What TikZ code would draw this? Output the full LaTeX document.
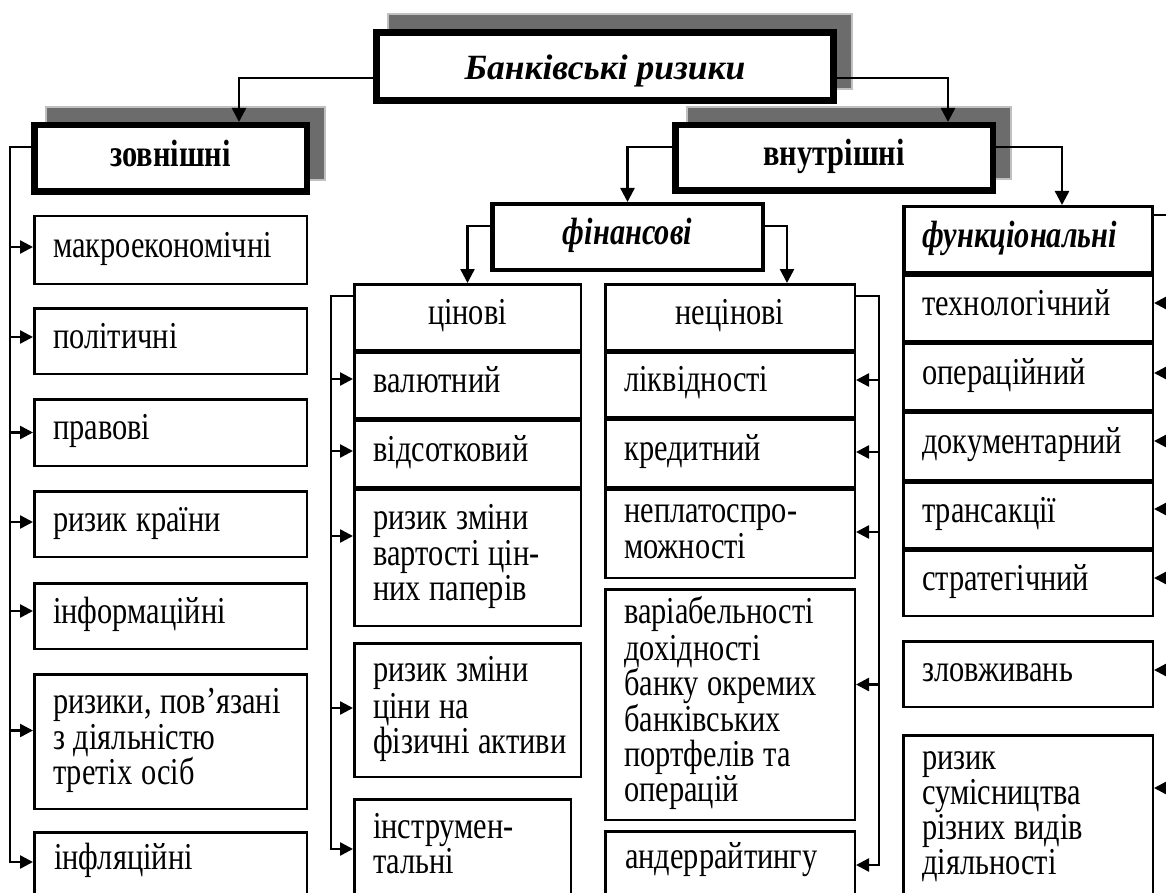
\documentclass[tikz,border=0pt]{standalone}
\usepackage{fontspec}
\setmainfont{Liberation Serif}
\newfontfamily\itemfam[FakeStretch=0.8,WordSpace=1.15]{Liberation Serif}
\newfontfamily\headfam[FakeStretch=0.8,WordSpace=1.15]{Liberation Serif}
\usetikzlibrary{arrows.meta,backgrounds}
\newcommand\itemfnt{\itemfam\fontsize{38}{35}\selectfont}
\newcommand\headfnt{\headfam\fontsize{38}{35}\selectfont\bfseries}
\newcommand\headifnt{\headfam\fontsize{38}{35}\selectfont\bfseries\itshape}
\newcommand\mainfnt{\fontsize{35.5}{40}\selectfont\bfseries\itshape}
\definecolor{shadowgray}{RGB}{108,108,108}
\definecolor{shadowedge}{RGB}{192,192,192}
\tikzset{
  ln/.style={line width=2.5pt},
  arr/.style={line width=2.5pt,-{Triangle[length=13pt,width=13pt]}},
  darr/.style={line width=2.5pt,-{Triangle[length=14pt,width=14pt]}},
  topbox/.style={draw,fill=white,line width=6.5pt,anchor=north west,inner sep=0pt,
    execute at begin node=\strut},
  itembox/.style={draw,fill=white,line width=2.5pt,anchor=north west,inner xsep=19pt,
    inner ysep=0pt,align=flush left,font=\itemfnt,
    execute at begin node=\strut,execute at end node=\strut},
  framebox/.style={draw,line width=2.5pt,anchor=north west,inner sep=0pt},
  txt/.style={anchor=west,inner sep=0pt,align=left,font=\itemfnt,
    execute at begin node=\strut,execute at end node=\strut},
  shadowrect/.style={fill=shadowgray,draw=shadowedge,line width=2pt},
}
\begin{document}
\begin{tikzpicture}[x=1pt,y=-1pt]
\useasboundingbox (0,0) rectangle (1166,893);
\clip (0,0) rectangle (1166,893);

% ---- top level boxes
\node[draw,fill=white,line width=7pt,anchor=north west,inner sep=0pt,minimum width=457pt,minimum height=68pt,
  text height=32pt,text depth=6.4pt,font=\mainfnt] (main) at (373,29) {Банківські ризики};
\node[topbox,minimum width=272.5pt,minimum height=66.5pt,font=\headfnt] (zovn) at (31,122) {зовнішні};
\node[topbox,minimum width=317.5pt,minimum height=65.5pt,font=\headfnt] (vnut) at (672,122) {внутрішні};
\node[topbox,line width=4.5pt,minimum width=270.5pt,minimum height=65.5pt,font=\headifnt] (fin) at (490,202) {фінансові};
\node[itembox,line width=3.5pt,text width=210.5pt,minimum height=65.5pt,font=\headifnt] (func) at (902,205) {функціональні};

\begin{scope}[on background layer]
  \fill[white] (0,0) rectangle (1166,893);
  \foreach \b in {main,zovn,vnut}
    \draw[shadowrect] ([xshift=15pt,yshift=15pt]\b.north west) rectangle ([xshift=15pt,yshift=15pt]\b.south east);
\end{scope}

% ---- external risks
\node[itembox,text width=234.5pt,minimum height=67.5pt] (makro) at (33,215) {макроекономічні};
\node[itembox,text width=234.5pt,minimum height=65.5pt] (polit) at (33,307) {політичні};
\node[itembox,text width=234.5pt,minimum height=66.5pt] (prav) at (33,398) {правові};
\node[itembox,text width=234.5pt,minimum height=65.5pt] (krain) at (33,490) {ризик країни};
\node[itembox,text width=234.5pt,minimum height=65.5pt] (inform) at (33,582) {інформаційні};
\node[itembox,text width=234.5pt,minimum height=134.5pt] (tretih) at (33,673) {\mbox{ризики, пов’язані}\\з діяльністю\\третіх осіб};
\node[framebox,minimum width=272.5pt,minimum height=200pt] (infl) at (33,831) {};
\node[txt] (infl-t) at (54,862) {інфляційні};

% ---- price risks
\node[itembox,text width=188.5pt,align=center,minimum height=65.5pt] (tsin) at (353,283) {цінові};
\node[itembox,text width=188.5pt,minimum height=65.5pt] (valut) at (353,351) {валютний};
\node[itembox,text width=188.5pt,minimum height=66.5pt] (vidsot) at (353,419) {відсотковий};
\node[itembox,text width=188.5pt,minimum height=136.5pt] (vart) at (353,488) {ризик зміни\\\mbox{вартості цін-}\\них паперів};
\node[itembox,text width=188.5pt,minimum height=133.5pt] (fiz) at (353,642) {ризик зміни\\ціни на\\\mbox{фізичні активи}};
\node[framebox,minimum width=216.5pt,minimum height=200pt] (instr) at (353,798) {};
\node[txt] (instr-t) at (373,849) {інструмен-\\тальні};

% ---- non-price risks
\node[itembox,text width=211.5pt,align=center,minimum height=65.5pt] (netsin) at (604,283) {нецінові};
\node[itembox,text width=211.5pt,minimum height=64.5pt] (likv) at (604,351) {ліквідності};
\node[itembox,text width=211.5pt,minimum height=67.5pt] (kred) at (604,418) {кредитний};
\node[itembox,text width=211.5pt,minimum height=88.5pt] (neplat) at (604,488) {неплатоспро-\\можності};
\node[itembox,text width=211.5pt,minimum height=230.5pt] (var) at (604,588) {варіабельності\\дохідності\\\mbox{банку окремих}\\банківських\\портфелів та\\операцій};
\node[framebox,minimum width=249.5pt,minimum height=200pt] (ander) at (604,830) {};
\node[txt] (ander-t) at (625,861) {андеррайтингу};

% ---- functional risks
\node[itembox,text width=211.5pt,minimum height=65.5pt] (tech) at (902,274) {технологічний};
\node[itembox,text width=211.5pt,minimum height=66.5pt] (oper) at (902,342) {операційний};
\node[itembox,text width=211.5pt,minimum height=67.5pt] (dok) at (902,411) {\mbox{документарний}};
\node[itembox,text width=211.5pt,minimum height=65.5pt] (trans) at (902,481) {трансакції};
\node[itembox,text width=211.5pt,minimum height=65.5pt] (strat) at (902,549) {стратегічний};
\node[itembox,text width=211.5pt,minimum height=65.5pt] (zlov) at (902,640) {зловживань};
\node[framebox,minimum width=249.5pt,minimum height=200pt] (sumis) at (902,734) {};
\node[txt] (sumis-t) at (922,818) {ризик\\сумісництва\\різних видів\\діяльності};

% ---- hierarchy connectors
\draw[darr] ([yshift=-11.5pt]main.west) -| ([xshift=68.5pt]zovn.north);
\draw[darr] ([yshift=-11.5pt]main.east) -| ([xshift=114pt]vnut.north);
\draw[darr] ([yshift=11pt]vnut.west) -| (fin.north);
\draw[darr] ([yshift=11pt]vnut.east) -| ([xshift=34pt]func.north);
\draw[darr] ([yshift=11pt]fin.west) -| (tsin.north);
\draw[darr] ([yshift=11pt]fin.east) -| ([xshift=57pt]netsin.north);

% ---- left trunk
\coordinate (LT) at (10,0);
\coordinate (infl-a) at (infl-t.west -| infl.west);
\draw[arr] ([yshift=11.5pt]zovn.west) -| (LT |- infl-a) -- (infl-a);
\foreach \n/\s in {makro/3,polit/4,prav/0,krain/2,inform/5,tretih/11}{
  \coordinate (\n-a) at ([yshift=\s pt]\n.west);
  \draw[arr] (LT |- \n-a) -- (\n-a);
}

% ---- price trunk
\coordinate (CT) at (331,0);
\coordinate (instr-a) at (instr-t.west -| instr.west);
\draw[arr] ([yshift=21pt]tsin.west) -| (CT |- instr-a) -- (instr-a);
\foreach \n/\s in {valut/6,vidsot/2.5,vart/21.5,fiz/2}{
  \coordinate (\n-a) at ([yshift=\s pt]\n.west);
  \draw[arr] (CT |- \n-a) -- (\n-a);
}

% ---- non-price trunk
\coordinate (NT) at (879,0);
\coordinate (ander-a) at ([yshift=-4pt]ander-t.west -| ander.east);
\draw[arr] ([yshift=21pt]netsin.east) -| (NT |- ander-a) -- (ander-a);
\foreach \n/\s in {likv/4.5,kred/1,neplat/1.5,var/20}{
  \coordinate (\n-a) at ([yshift=\s pt]\n.east);
  \draw[arr] (NT |- \n-a) -- (\n-a);
}

% ---- functional trunk (runs off the right edge)
\coordinate (FT) at (1185,0);
\coordinate (sumis-b) at ([yshift=30pt]sumis-t.west);
\coordinate (sumis-a) at (sumis-b -| sumis.east);
\draw[ln] ([yshift=24.5pt]func.east) -| (FT |- sumis-a);
\draw[arr] (FT |- sumis-a) -- (sumis-a);
\foreach \n/\s in {tech/5,oper/3.5,dok/5,trans/6,strat/5,zlov/4}{
  \coordinate (\n-a) at ([yshift=\s pt]\n.east);
  \draw[arr] (FT |- \n-a) -- (\n-a);
}
\end{tikzpicture}
\end{document}
